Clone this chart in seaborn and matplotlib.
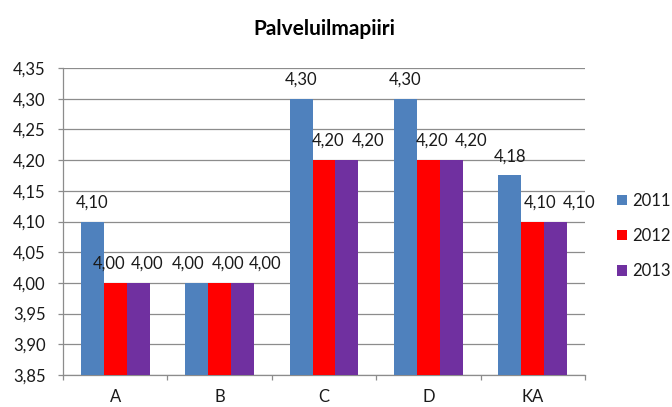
import matplotlib
matplotlib.use("Agg")
import matplotlib.pyplot as plt
import seaborn as sns
import pandas as pd
import numpy as np

categories = ["A", "B", "C", "D", "KA"]
years = ["2011", "2012", "2013"]
values_2011 = [4.10, 4.00, 4.30, 4.30, 4.175]
values_2012 = [4.00, 4.00, 4.20, 4.20, 4.10]
values_2013 = [4.00, 4.00, 4.20, 4.20, 4.10]
yticks = [3.85, 3.90, 3.95, 4.00, 4.05, 4.10, 4.15, 4.20, 4.25, 4.30, 4.35]
colors = ["#4F81BD", "#FF0000", "#7030A0"]

rows = []
for yr, vals in zip(years, [values_2011, values_2012, values_2013]):
    for c, v in zip(categories, vals):
        rows.append({"cat": c, "year": yr, "value": v})
df = pd.DataFrame(rows)

sns.set_theme(style="white")
plt.rcParams['font.family'] = ['Lato', 'DejaVu Sans']

FS = 12
TXT = "#1a1a1a"
GRID = "#8c8c8c"

fig = plt.figure(figsize=(6.72, 4.07), dpi=100)
ax = fig.add_axes([63/672, 1 - 375/407, (585 - 63)/672, (375 - 68)/407])

sns.barplot(data=df, x="cat", y="value", hue="year", palette=colors,
            width=0.66, saturation=1, ax=ax, errorbar=None, linewidth=0, zorder=3)

ax.set_ylim(3.85, 4.35)
ax.set_xlim(-0.5, 4.5)
ax.set_yticks(yticks)
ax.set_yticklabels([f"{t:.2f}".replace(".", ",") for t in yticks], fontsize=FS, color=TXT)
ax.set_xticks(range(len(categories)))
ax.set_xticklabels(categories, fontsize=FS, color=TXT)
ax.set_xlabel("")
ax.set_ylabel("")
ax.grid(axis="y", color=GRID, linewidth=0.9, zorder=0)
ax.set_axisbelow(True)

for s in ["top", "right"]:
    ax.spines[s].set_visible(False)
for s in ["left", "bottom"]:
    ax.spines[s].set_color(GRID)
    ax.spines[s].set_linewidth(0.9)

ax.tick_params(axis="y", which="major", length=3.6, width=0.9, color=GRID, left=True, pad=9)
ax.tick_params(axis="x", which="major", length=0, pad=10)
ax.set_xticks(np.arange(-0.5, 5.0, 1.0), minor=True)
ax.tick_params(axis="x", which="minor", length=3.6, width=0.9, color=GRID, bottom=True)

# horizontal label offsets (pixels) used to keep neighbouring labels apart
label_dx = [
    [0, -9, 0, 0, 0],
    [-6, 8, 4, 3.5, 7],
    [9, 23, 21, 20, 23],
]
px = 0.72
for ci, cont in enumerate(ax.containers):
    for bi, bar in enumerate(cont):
        v = bar.get_height()
        lab = f"{v + 1e-9:.2f}".replace(".", ",")
        ax.annotate(lab, (bar.get_x() + bar.get_width() / 2, v),
                    xytext=(label_dx[ci][bi] * px, 8), textcoords="offset points",
                    ha="center", va="bottom", fontsize=FS, color=TXT, zorder=5)

ax.set_title("Palveluilmapiiri", fontsize=15, fontweight="bold", pad=24, color="#000000")

leg = ax.legend(loc="center left", bbox_to_anchor=(617/672, 1 - 236/407),
                bbox_transform=fig.transFigure, frameon=False,
                fontsize=FS, labelspacing=1.15, handlelength=0.6, handleheight=0.6,
                handletextpad=0.3, borderpad=0, borderaxespad=0)
for t in leg.get_texts():
    t.set_color(TXT)

fig.savefig("out.png", dpi=100)
